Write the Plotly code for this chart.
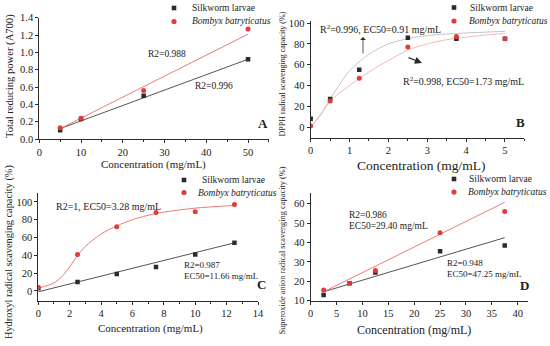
import plotly.graph_objects as go

W, H = 550, 346

# ---------------- data ----------------
# Panel A: total reducing power
a_conc = [5, 10, 25, 50]
a_silk = [0.10, 0.23, 0.50, 0.92]
a_bomb = [0.13, 0.24, 0.56, 1.27]
a_fit_x = [5, 50]
a_fit_silk = [0.12, 0.92]
a_fit_bomb = [0.12, 1.21]
a_yticks = [0.0, 0.2, 0.4, 0.6, 0.8, 1.0, 1.2, 1.4]
a_yticklabels = ["0.0", "0.2", "0.4", "0.6", "0.8", "1.0", "1.2", "1.4"]

# Panel B: DPPH radical scavenging
b_conc = [0, 0.5, 1.25, 2.5, 3.75, 5]
b_silk = [8, 27, 55, 86, 85, 85]
b_bomb = [1, 25, 47, 77, 87, 85]
b_fit_x = [0, 0.25, 0.5, 1, 1.5, 2, 2.5, 3, 3.5, 4, 4.5, 5]
b_fit_silk = [0, 12, 27, 54, 70, 80, 85, 88, 89.5, 90.5, 91.3, 92]
b_fit_bomb = [0, 11, 25, 40, 53, 64, 74, 80, 84, 86.5, 88.5, 90]

# Panel C: hydroxyl radical scavenging
c_conc = [0, 2.5, 5, 7.5, 10, 12.5]
c_silk = [3, 10, 19, 27, 41, 54]
c_bomb = [4, 41, 72, 88, 89, 97]
c_fit_silk_x = [0, 12.5]
c_fit_silk = [-1, 54]
c_fit_bomb_x = [0, 1, 1.5, 2, 2.5, 3, 4, 5, 6, 7.5, 10, 12.5]
c_fit_bomb = [3, 9, 16, 27, 40, 50, 64, 73, 80, 87, 93, 96]

# Panel D: superoxide anion radical scavenging
d_conc = [2.5, 7.5, 12.5, 25, 37.5]
d_silk = [13, 19, 24.5, 35.5, 38.5]
d_bomb = [15.5, 19, 25.5, 45, 56]
d_fit_x = [2.5, 37.5]
d_fit_silk = [14.6, 42.5]
d_fit_bomb = [14.6, 60.7]

SILK = "Silkworm larvae"
BOMB = "<i>Bombyx batryticatus</i>"

# ---------------- style ----------------
BLK = "#2b2b2b"
RED = "#e23b3b"
TXT = "#222222"
FONT = "Liberation Serif, Times New Roman, DejaVu Serif, serif"

def px(x, y):
    return x / W, 1 - y / H

fig = go.Figure()

def add_panel(xa, ya, conc, silk, bomb, fits):
    for fx, fy, col in fits:
        fig.add_trace(go.Scatter(x=fx, y=fy, mode="lines", xaxis=xa, yaxis=ya,
                                 line=dict(color=col, width=1, shape="spline", smoothing=0.8),
                                 showlegend=False, hoverinfo="skip"))
    fig.add_trace(go.Scatter(x=conc, y=silk, mode="markers", name=SILK, xaxis=xa, yaxis=ya,
                             marker=dict(symbol="square", size=4.5, color=BLK), showlegend=False))
    fig.add_trace(go.Scatter(x=conc, y=bomb, mode="markers", name=BOMB, xaxis=xa, yaxis=ya,
                             marker=dict(symbol="circle", size=5, color=RED), showlegend=False))

add_panel("x", "y", a_conc, a_silk, a_bomb,
          [(a_fit_x, a_fit_silk, "#555555"), (a_fit_x, a_fit_bomb, "#f07a7a")])
add_panel("x2", "y2", b_conc, b_silk, b_bomb,
          [(b_fit_x, b_fit_silk, "#c4c4c4"), (b_fit_x, b_fit_bomb, "#f3b9b9")])
add_panel("x3", "y3", c_conc, c_silk, c_bomb,
          [(c_fit_silk_x, c_fit_silk, "#555555"), (c_fit_bomb_x, c_fit_bomb, "#f07a7a")])
add_panel("x4", "y4", d_conc, d_silk, d_bomb,
          [(d_fit_x, d_fit_silk, "#555555"), (d_fit_x, d_fit_bomb, "#f07a7a")])

def xaxis(dom, rng, dtick, anchor, fs=10.5):
    return dict(domain=dom, range=rng, dtick=dtick, anchor=anchor, showline=True, linecolor=BLK,
                linewidth=1, ticks="outside", ticklen=3, tickcolor=BLK, showgrid=False,
                zeroline=False, automargin=False, tickfont=dict(family=FONT, size=fs, color=TXT),
                minor=dict(ticks="outside", ticklen=2, tickcolor=BLK, nticks=2))

def yaxis(dom, rng, dtick, anchor, fs=10.5):
    return dict(domain=dom, range=rng, dtick=dtick, anchor=anchor, showline=True, linecolor=BLK,
                linewidth=1, ticks="outside", ticklen=3, tickcolor=BLK, showgrid=False,
                zeroline=False, automargin=False, tickfont=dict(family=FONT, size=fs, color=TXT))

def dx(a, b):
    return [a / W, b / W]

def dy(bottom, top):
    return [1 - bottom / H, 1 - top / H]

ya = yaxis(dy(139, 17.7), [0, 1.4], 0.2, "x")
ya.update(tickmode="array", tickvals=a_yticks, ticktext=a_yticklabels)

fig.update_layout(
    width=W, height=H, margin=dict(l=0, r=0, t=0, b=0, autoexpand=False),
    paper_bgcolor="white", plot_bgcolor="white",
    font=dict(family=FONT, color=TXT),
    showlegend=False,
    xaxis=xaxis(dx(39.3, 268.9), [0, 55], 10, "y"),
    yaxis=ya,
    xaxis2=xaxis(dx(310.7, 524.4), [0, 5.5], 1, "y2"),
    yaxis2=yaxis(dy(137.7, 21), [-10.3, 102], 20, "x2"),
    xaxis3=xaxis(dx(38.3, 258), [0, 14], 2, "y3"),
    yaxis3=yaxis(dy(300.7, 193), [-11, 110], 20, "x3"),
    xaxis4=xaxis(dx(310.7, 528), [0, 42], 5, "y4"),
    yaxis4=yaxis(dy(300.7, 193), [10, 65.5], 10, "x4"),
)

def note(xp, yp, text, anchor="center", size=10, bold=False, angle=0):
    x, y = px(xp, yp)
    if bold:
        text = "<b>" + text + "</b>"
    fig.add_annotation(x=x, y=y, xref="paper", yref="paper", text=text, showarrow=False,
                       xanchor=anchor, yanchor="middle", textangle=angle,
                       font=dict(family=FONT, size=size, color=TXT))

# axis titles
conc_title = "Concentration (mg/mL)"
note(153, 164, conc_title, size=11)
note(421, 165, conc_title, size=13.5)
note(150, 328.5, conc_title, size=11)
note(414, 329.5, conc_title, size=12)
note(10, 76, "Total reducing power (A700)", size=10.6, angle=-90)
note(282.5, 74, "DPPH radical scavenging capacity (%)", size=8, angle=-90)
note(9, 252, "Hydroxyl radical scavenging capacity (%)", size=10.3, angle=-90)
note(281.5, 251, "Superoxide anion radical scavenging capacity (%)", size=8.4, angle=-90)

# legends (marker glyph shapes + text)
def legend(mx, y1, y2, tx1, tx2, size=9.5):
    s = 2.3
    x0, yt = px(mx - s, y1 - s)
    x1, yb = px(mx + s, y1 + s)
    fig.add_shape(type="rect", xref="paper", yref="paper", x0=x0, x1=x1, y0=yb, y1=yt,
                  fillcolor=BLK, line=dict(width=0))
    r = 2.6
    x0, yt = px(mx - r, y2 - r)
    x1, yb = px(mx + r, y2 + r)
    fig.add_shape(type="circle", xref="paper", yref="paper", x0=x0, x1=x1, y0=yb, y1=yt,
                  fillcolor=RED, line=dict(width=0))
    note(tx1, y1, SILK, anchor="left", size=size)
    note(tx2, y2, BOMB, anchor="left", size=size)

legend(174, 8, 21.5, 190, 190)
legend(454, 7.5, 21, 468, 467)
legend(184, 180, 192.5, 200, 196)
legend(454, 179, 192, 467, 466)

# Panel A
note(167, 54, "R2=0.988", size=9.5)
note(214, 86, "R2=0.996", size=9.5)
note(263, 123, "A", size=13, bold=True)
# Panel B
note(380, 29, "R<sup>2</sup>=0.996, EC50=0.91 mg/mL")
note(463, 81, "R<sup>2</sup>=0.998, EC50=1.73 mg/mL")
note(520, 122, "B", size=13, bold=True)
# Panel C
note(108, 206, "R2=1, EC50=3.28 mg/mL")
note(182, 264.5, "R2=0.987", anchor="left", size=9)
note(182, 275.5, "EC50=11.66 mg/mL", anchor="left", size=9)
note(261, 284, "C", size=13, bold=True)
# Panel D
note(347, 214.7, "R2=0.986", anchor="left", size=9.5)
note(347, 225.7, "EC50=29.40 mg/mL", anchor="left", size=9.5)
note(445, 263, "R2=0.948", anchor="left", size=9)
note(445, 273.7, "EC50=47.25 mg/mL", anchor="left", size=9)
note(524, 285, "D", size=13, bold=True)

# Arrows in panel B
hx, hy = px(363, 37)
fig.add_annotation(x=hx, y=hy, xref="paper", yref="paper", text="", showarrow=True,
                   ax=0, ay=18, arrowhead=1, arrowsize=1.2, arrowwidth=0.8, arrowcolor=BLK)
hx, hy = px(422, 63)
fig.add_annotation(x=hx, y=hy, xref="paper", yref="paper", text="", showarrow=True,
                   ax=-15, ay=-6, arrowhead=2, arrowsize=1.2, arrowwidth=1.2, arrowcolor=BLK)

# remove the browser's default 8px page margin so the 550x346 figure fills the window
fig.write_html("out.html", config={"displayModeBar": False},
               post_script="document.body.style.margin='0';")
